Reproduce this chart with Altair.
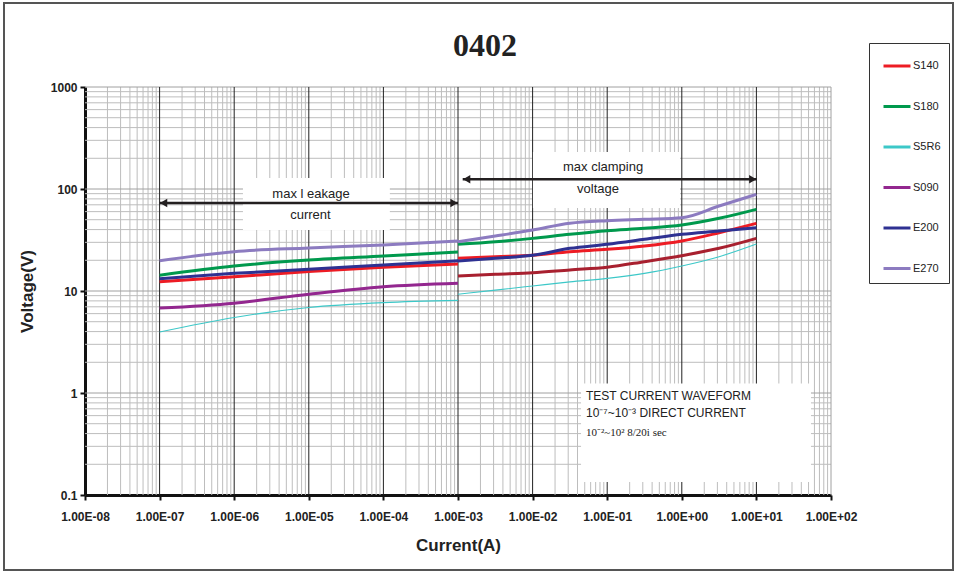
import altair as alt
import pandas as pd

# ---------------- data ----------------
series_names = ["S140", "S180", "S5R6", "S090", "E200", "E270"]
series_colors = ["#ED1C24", "#00994D", "#3CC8C8", "#93278F", "#2E3192", "#8C7BC0"]
extra_name = "S090b"          # surge-range segment drawn in dark red (not in legend)
extra_color = "#A8202F"

current_low = [1e-7, 1e-6, 1e-5, 1e-4, 1e-3]
current_high = [1e-3, 3.16e-3, 1e-2, 3.16e-2, 1e-1, 3.16e-1, 1.0, 3.16, 10.0]

S140_low = [12.3, 13.8, 15.5, 17.1, 18.4]
S180_low = [14.3, 17.6, 20.1, 22.0, 24.1]
S5R6_low = [3.96, 5.5, 6.9, 7.7, 8.1]
S090_low = [6.8, 7.6, 9.3, 11.0, 11.9]
E200_low = [13.2, 14.9, 16.3, 18.0, 19.8]
E270_low = [19.8, 24.3, 26.4, 28.3, 31.0]

S140_high = [20.9, 21.7, 22.4, 24.3, 25.6, 27.6, 30.9, 37.3, 46.1]
S180_high = [28.7, 30.4, 32.8, 36.0, 39.0, 41.2, 44.4, 51.6, 63.2]
S5R6_high = [9.3, 10.2, 11.2, 12.3, 13.3, 14.9, 17.6, 21.7, 28.9]
S090_high = [14.0, 14.6, 15.1, 16.1, 17.1, 19.4, 22.2, 26.2, 32.8]
E200_high = [19.7, 20.9, 22.4, 26.2, 28.7, 32.1, 36.0, 38.7, 41.8]
E270_high = [30.4, 34.6, 39.6, 46.1, 48.9, 50.5, 52.3, 68.1, 88.7]

x_tick_values = [1e-8, 1e-7, 1e-6, 1e-5, 1e-4, 1e-3, 1e-2, 1e-1, 1e0, 1e1, 1e2]
x_tick_labels = ["1.00E-08", "1.00E-07", "1.00E-06", "1.00E-05", "1.00E-04", "1.00E-03",
                 "1.00E-02", "1.00E-01", "1.00E+00", "1.00E+01", "1.00E+02"]
y_tick_values = [0.1, 1, 10, 100, 1000]
y_tick_labels = ["0.1", "1", "10", "100", "1000"]

# annotation boxes (data units)
box_x1 = [1.31e-6, 1.01e-2, 0.0446]
box_x2 = [1.22e-4, 0.946, 53.9]
box_y1 = [39.6, 65.1, 0.134]
box_y2 = [128.0, 230.0, 1.24]

# arrows (data units)
arrow_x1 = [1e-7, 1.156e-3]
arrow_x2 = [1e-3, 10.1]
arrow_y = [72.9, 124.5]

ann_text = ["max l eakage", "current", "max clamping", "voltage"]
ann_x = [1.07e-5, 1.05e-5, 8.8e-2, 7.54e-2]
ann_y = [89.3, 56.2, 164.4, 100.0]

note_text = ["TEST CURRENT WAVEFORM", "10⁻⁷~10⁻³ DIRECT CURRENT", "10⁻²~10² 8/20i  sec"]
note_x = [0.052, 0.052, 0.052]
note_y = [0.935, 0.637, 0.405]

# ---------------- tables ----------------
rows = []
lows = {"S140": S140_low, "S180": S180_low, "S5R6": S5R6_low, "S090": S090_low,
        "E200": E200_low, "E270": E270_low}
highs = {"S140": S140_high, "S180": S180_high, "S5R6": S5R6_high, extra_name: S090_high,
         "E200": E200_high, "E270": E270_high}
for name, vals in lows.items():
    for i, (c, v) in enumerate(zip(current_low, vals)):
        rows.append({"series": name, "seg": name + "_low", "current": c, "voltage": v, "o": i})
for name, vals in highs.items():
    for i, (c, v) in enumerate(zip(current_high, vals)):
        rows.append({"series": name, "seg": name + "_high", "current": c, "voltage": v, "o": i})
df = pd.DataFrame(rows)
df_thick = df[df["series"] != "S5R6"]
df_thin = df[df["series"] == "S5R6"]

minor_x = [m * 10.0 ** d for d in range(-8, 2) for m in range(2, 10)]
major_x_dark = [10.0 ** d for d in range(-7, 2)]
edge_x = [1e2]
minor_y = [m * 10.0 ** d for d in range(-1, 3) for m in range(2, 10)]
major_y = [1, 10, 100, 1000]

xs = alt.Scale(type="log", domain=[1e-8, 1e2], nice=False)
ys = alt.Scale(type="log", domain=[0.1, 1000], nice=False)

LABEL_FONT = "Liberation Sans"
x_label_expr = "[" + ",".join("'%s'" % s for s in x_tick_labels) + "][round(log(datum.value)/LN10)+8]"
y_label_expr = "[" + ",".join("'%s'" % s for s in y_tick_labels) + "][round(log(datum.value)/LN10)+1]"

xaxis = alt.Axis(values=x_tick_values, labelExpr=x_label_expr, grid=False,
                 domainColor="#111", domainWidth=3, tickColor="#111", tickWidth=2, tickSize=5,
                 labelFont=LABEL_FONT, labelFontWeight="bold", labelFontSize=12, labelColor="#222",
                 labelPadding=11, labelFlush=False, labelOverlap=False,
                 title="Current(A)", titleFont=LABEL_FONT, titleFontSize=17, titleFontWeight="bold",
                 titleColor="#222", titlePadding=15)
yaxis = alt.Axis(values=y_tick_values, labelExpr=y_label_expr, grid=False,
                 domainColor="#111", domainWidth=3, tickColor="#111", tickWidth=2, tickSize=5,
                 labelFont=LABEL_FONT, labelFontWeight="bold", labelFontSize=12, labelColor="#222",
                 labelPadding=3, labelFlush=False, labelOverlap=False,
                 title="Voltage(V)", titleFont=LABEL_FONT, titleFontSize=17, titleFontWeight="bold",
                 titleColor="#222", titlePadding=14)

def X(f):
    return alt.X(f, type="quantitative", scale=xs, axis=xaxis)

def Y(f):
    return alt.Y(f, type="quantitative", scale=ys, axis=yaxis)

vminor = alt.Chart(pd.DataFrame({"v": minor_x})).mark_rule(color="#BDBDBD", strokeWidth=1).encode(x=X("v"))
hminor = alt.Chart(pd.DataFrame({"v": minor_y})).mark_rule(color="#BDBDBD", strokeWidth=1).encode(y=Y("v"))
hmajor = alt.Chart(pd.DataFrame({"v": major_y})).mark_rule(color="#A0A0A0", strokeWidth=1).encode(y=Y("v"))
vedge = alt.Chart(pd.DataFrame({"v": edge_x})).mark_rule(color="#A0A0A0", strokeWidth=1).encode(x=X("v"))
vmajor = alt.Chart(pd.DataFrame({"v": major_x_dark})).mark_rule(color="#222", strokeWidth=1).encode(x=X("v"))

boxes = alt.Chart(pd.DataFrame({"x1": box_x1, "x2": box_x2, "y1": box_y1, "y2": box_y2})).mark_rect(
    fill="white").encode(x=X("x1"), x2="x2", y=Y("y1"), y2="y2")

dom = series_names + [extra_name]
rng = series_colors + [extra_color]
color_scale = alt.Scale(domain=dom, range=rng)
legend = alt.Legend(values=series_names, orient="none", legendX=784, legendY=-44,
                    title=None, fillColor="white", strokeColor="#333",
                    padding=8, rowPadding=19.5, symbolType="stroke",
                    symbolSize=729, symbolStrokeWidth=3, symbolOffset=5,
                    labelOffset=1, labelFont=LABEL_FONT, labelFontSize=11,
                    labelColor="#222")

lines_thick = alt.Chart(df_thick).mark_line(interpolate="monotone", strokeCap="butt", strokeWidth=3).encode(
    x=X("current"), y=Y("voltage"),
    color=alt.Color("series:N", scale=color_scale, legend=legend),
    detail="seg:N", order="o:Q")
lines_thin = alt.Chart(df_thin).mark_line(interpolate="monotone", strokeCap="butt", strokeWidth=1.1).encode(
    x=X("current"), y=Y("voltage"),
    color=alt.Color("series:N", scale=color_scale, legend=legend),
    detail="seg:N", order="o:Q")

arr_df = pd.DataFrame({"x1": arrow_x1, "x2": arrow_x2, "y": arrow_y})
arrows = alt.Chart(arr_df).mark_rule(color="#231F20", strokeWidth=2.5).encode(
    x=X("x1"), x2="x2", y=Y("y"))
head_l = alt.Chart(arr_df).mark_point(shape="triangle-left", filled=True, opacity=1,
                                      color="#231F20", size=70, xOffset=4).encode(x=X("x1"), y=Y("y"))
head_r = alt.Chart(arr_df).mark_point(shape="triangle-right", filled=True, opacity=1,
                                      color="#231F20", size=70, xOffset=-4).encode(x=X("x2"), y=Y("y"))

ann = alt.Chart(pd.DataFrame({"t": ann_text, "x": ann_x, "y": ann_y})).mark_text(
    font=LABEL_FONT, fontSize=13, color="#222", align="center", baseline="middle").encode(
    x=X("x"), y=Y("y"), text="t:N")

notes1 = alt.Chart(pd.DataFrame({"t": note_text[:2], "x": note_x[:2], "y": note_y[:2]})).mark_text(
    font=LABEL_FONT, fontSize=12, color="#222", align="left", baseline="middle").encode(
    x=X("x"), y=Y("y"), text="t:N")
notes2 = alt.Chart(pd.DataFrame({"t": note_text[2:], "x": note_x[2:], "y": note_y[2:]})).mark_text(
    font="Liberation Serif", fontSize=11, color="#222", align="left", baseline="middle").encode(
    x=X("x"), y=Y("y"), text="t:N")

frame = alt.Chart(pd.DataFrame({"a": [0]})).mark_rect(fillOpacity=0, stroke="#555", strokeWidth=2).encode(
    x=alt.value(-81), x2=alt.value(868), y=alt.value(-84), y2=alt.value(483))

chart = alt.layer(vminor, hminor, hmajor, vedge, vmajor, boxes, lines_thick, lines_thin, arrows, head_l, head_r,
                  ann, notes1, notes2, frame).properties(
    width=746, height=408,
    title=alt.TitleParams("0402", font="Liberation Serif", fontSize=32, fontWeight="bold",
                          color="#222", anchor="middle", dx=27, offset=-61),
    autosize=alt.AutoSizeParams(type="none"),
    padding={"left": 85, "top": 87, "right": 123, "bottom": 80},
    background="white",
).configure_view(stroke=None)

chart.save("out.html", embed_options={"renderer": "svg", "actions": False})
